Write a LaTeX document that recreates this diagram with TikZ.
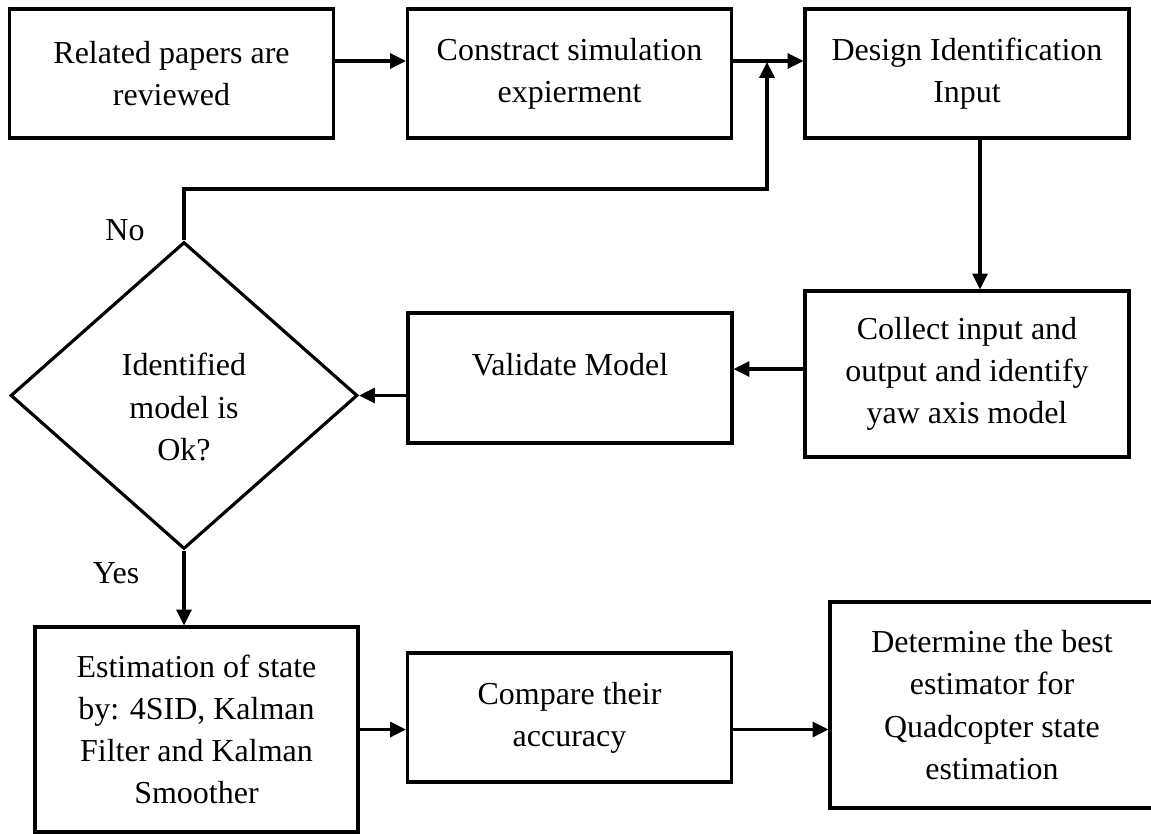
\documentclass[tikz,border=0pt]{standalone}
\usepackage{fontspec}
\setmainfont{Liberation Serif}
\usetikzlibrary{shapes.geometric, arrows.meta}

\begin{document}
\begin{tikzpicture}[
    x=0.02cm, y=-0.02cm,
    % process step style
    stepbox/.style={
        rectangle,
        draw=black,
        line width=1.8pt,
        minimum width=6.48cm,
        minimum height=2.58cm,
        inner sep=2pt,
        align=center,
        font=\fontsize{18.2}{24}\selectfont
    },
    % decision style
    decision/.style={
        diamond,
        draw=black,
        line width=1.8pt,
        minimum width=6.94cm,
        minimum height=6.14cm,
        inner sep=0pt,
        align=center,
        font=\fontsize{18.2}{24}\selectfont
    },
    arrow/.style={
        -{Triangle[length=9pt, width=8.5pt]},
        line width=1.8pt,
        black
    },
    answer/.style={
        font=\fontsize{18.2}{24}\selectfont
    }
]
\useasboundingbox (0,0) rectangle (1151,833);

% === Top row ===
\node[stepbox] (review) at (171.5, 73.5) {Related papers are\\reviewed};
\node[stepbox] (simexp) at (569.5, 73.5) {Constract simulation\\expierment};
\node[stepbox] (design) at (967, 73.5) {Design Identification\\Input};

% === Middle row ===
\node[stepbox, minimum height=3.32cm] (collect) at (967, 374) {Collect input and\\output and identify\\yaw axis model};
\node[stepbox, minimum height=2.6cm, text depth=15pt] (validate) at (570, 378) {Validate Model};
\node[decision, text height=74pt] (check) at (184, 395.5) {Identified\\model is\\Ok?};

% === Bottom row ===
\node[stepbox, minimum width=6.46cm, minimum height=4.1cm] (estim) at (196.5, 729.5) {Estimation of state\\by: 4SID, Kalman\\Filter and Kalman\\Smoother};
\node[stepbox] (compare) at (569.5, 717.5) {Compare their\\accuracy};
\node[stepbox, minimum height=4.12cm] (best) at (992, 705) {Determine the best\\estimator for\\Quadcopter state\\estimation};

% === Answers ===
\node[answer, anchor=base] (no) at ([xshift=-1.18cm]check.north) {No};
\node[answer, anchor=base] (yes) at ([xshift=-1.36cm, yshift=-0.66cm]check.south) {Yes};

% === Connectors ===
\coordinate (loop) at (767, 189);
\coordinate (join) at (767, 62);
\coordinate (c2v) at ([yshift=0.1cm]collect.west);

\draw[arrow] ([yshift=0.25cm]review.east) -- ([yshift=0.25cm]simexp.west);
\draw[arrow] ([yshift=0.25cm]simexp.east) -- ([yshift=0.25cm]design.west);
\draw[arrow] (check.north) |- (loop) -- (join);
\draw[arrow] ([xshift=0.26cm]design.south) -- ([xshift=0.26cm]collect.north);
\draw[arrow] (c2v) -- (c2v -| validate.east);
\draw[arrow] (validate.west |- check.east) -- (check.east);
\draw[arrow] (check.south) -- (check.south |- estim.north);
\draw[arrow] (estim.east) -- (estim.east -| compare.west);
\draw[arrow] (estim.east -| compare.east) -- (estim.east -| best.west);

\end{tikzpicture}
\end{document}
